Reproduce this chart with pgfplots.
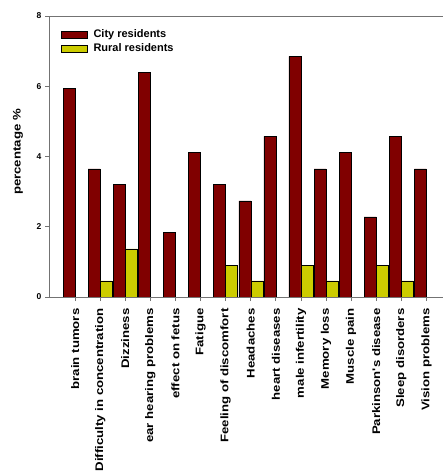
\documentclass[border=0pt]{standalone}
\usepackage{pgfplots}
\pgfplotsset{compat=1.18}
\usepackage{fontspec}
\setmainfont{Liberation Sans}
\newfontfamily\tallfont[FakeStretch=1.2]{Liberation Sans}

\definecolor{cityred}{RGB}{128,0,0}
\definecolor{ruralyellow}{RGB}{204,204,0}

\begin{document}
\begin{tikzpicture}
\useasboundingbox (0,0) rectangle (443pt,471pt);
\begin{axis}[
  at={(49pt,174pt)}, anchor=south west,
  scale only axis,
  width=394pt, height=281pt,
  ybar=0pt, bar width=12pt,
  every axis plot post/.append style={
    /pgfplots/legend image code/.code={%
      \draw[##1,draw=black,line width=0.5pt] (0pt,-3.6pt) rectangle (26pt,3.6pt);}},
  xmin=-1.04, xmax=14.66,
  ymin=0, ymax=8,
  ytick={0,2,4,6,8},
  xtick=data,
  xticklabels={brain tumors, Difficulty in concentration, Dizziness,
    ear hearing problems, effect on fetus, Fatigue, Feeling of discomfort,
    Headaches, heart diseases, male infertility, Memory loss, Muscle pain,
    Parkinson's disease, Sleep disorders, Vision problems},
  axis x line*=box, axis y line*=left,
  xtick pos=bottom, ytick pos=left,
  tick align=outside, major tick length=4pt,
  axis line style={black!55, line width=0.8pt},
  every tick/.style={black!55, line width=0.8pt},
  /pgf/number format/assume math mode=true,
  yticklabel style={font=\bfseries\fontsize{8.5}{10}\selectfont},
  xticklabel shift=4pt,
  xticklabel style={rotate=90, anchor=east,
    font=\tallfont\bfseries\fontsize{11}{13}\selectfont},
  ylabel={percentage \%},
  ylabel style={at={(axis description cs:-0.079,0.516)}, anchor=center,
    font=\tallfont\bfseries\fontsize{11}{13}\selectfont},
  legend style={at={(axis description cs:0.03,0.955)}, anchor=north west,
    draw=none, fill=none, inner sep=0pt, row sep=2.5pt,
    font=\bfseries\fontsize{11}{13}\selectfont,
    nodes={inner sep=1pt, anchor=west},
    /tikz/every odd column/.append style={column sep=5pt}},
  legend cell align=left,
]
\addplot[fill=cityred, draw=black, line width=0.5pt] coordinates {
  (0,5.94) (1,3.65) (2,3.20) (3,6.39) (4,1.83) (5,4.11) (6,3.20) (7,2.74)
  (8,4.57) (9,6.85) (10,3.65) (11,4.11) (12,2.28) (13,4.57) (14,3.65)};
\addlegendentry{City residents}
\addplot[fill=ruralyellow, draw=black, line width=0.5pt] coordinates {
  (1,0.46) (2,1.37) (6,0.91) (7,0.46) (9,0.91) (10,0.46) (12,0.91) (13,0.46)};
\addlegendentry{Rural residents}
\end{axis}
\end{tikzpicture}
\end{document}
